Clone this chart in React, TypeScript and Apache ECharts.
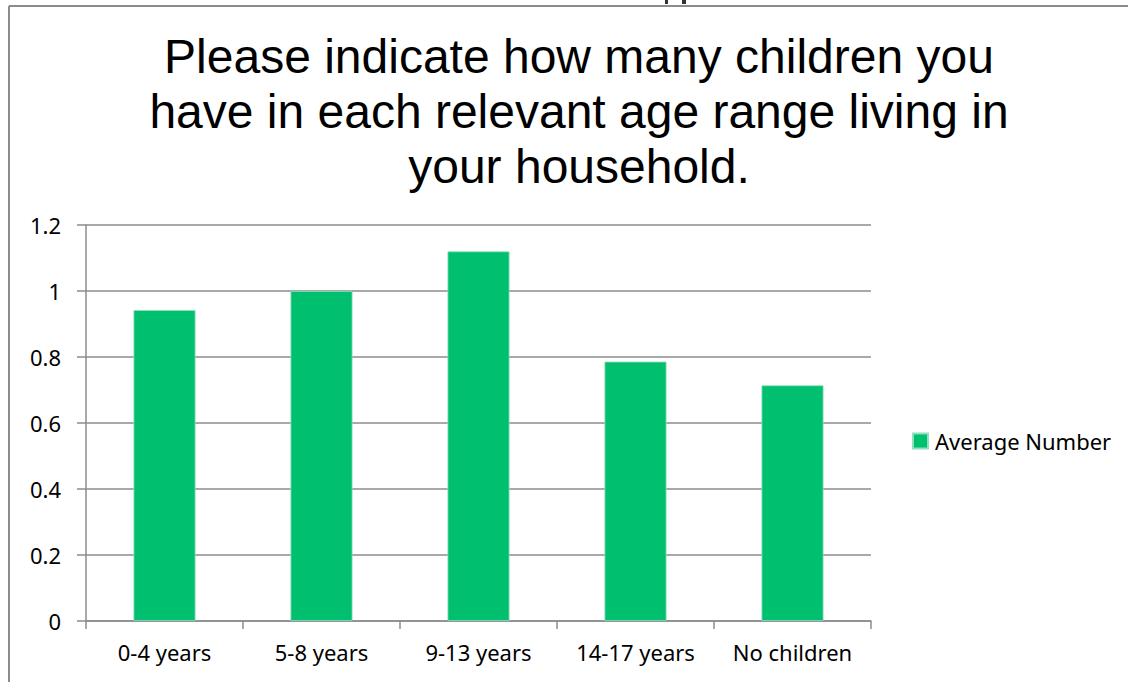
import React, { useEffect, useRef } from "react";
import * as echarts from "echarts";

const categories = ["0-4 years", "5-8 years", "9-13 years", "14-17 years", "No children"];
const averageNumber = [0.942, 1.0, 1.12, 0.786, 0.714];
const seriesName = "Average Number";
const titleText = "Please indicate how many children you\nhave in each relevant age range living in\nyour household.";

export default function App() {
  const ref = useRef<HTMLDivElement>(null);
  useEffect(() => {
    document.body.style.margin = "0";
    const chart = echarts.init(ref.current!, null, { renderer: "svg" });
    const labelFont = "'Noto Sans', 'Open Sans', sans-serif";
    chart.setOption({
      animation: false,
      backgroundColor: "#ffffff",
      title: {
        text: titleText,
        left: 574,
        top: 24,
        textAlign: "center",
        textStyle: {
          fontFamily: "'Liberation Sans', Arial, sans-serif",
          fontSize: 48,
          fontWeight: "normal",
          color: "#000000",
          lineHeight: 55,
        },
      },
      legend: {
        show: true,
        orient: "vertical",
        left: 907,
        top: 425,
        itemWidth: 15,
        itemHeight: 15,
        itemGap: 6,
        icon: "rect",
        textStyle: { fontFamily: labelFont, fontSize: 22, color: "#000000", padding: [0, 0, 0, 2] },
        data: [seriesName],
      },
      grid: { left: 86, right: 257, top: 225, bottom: 61, containLabel: false },
      xAxis: {
        type: "category",
        data: categories,
        axisLine: { show: true, lineStyle: { color: "#8c8c8c", width: 1.5 } },
        axisTick: { show: true, length: 8, lineStyle: { color: "#8c8c8c", width: 1.5 }, alignWithLabel: false },
        axisLabel: { interval: 0, fontFamily: labelFont, fontSize: 22, color: "#000000", margin: 20 },
        splitLine: { show: false },
      },
      yAxis: {
        type: "value",
        min: 0,
        max: 1.2,
        interval: 0.2,
        axisLine: { show: true, lineStyle: { color: "#8c8c8c", width: 1.5 } },
        axisTick: { show: true, length: 9, lineStyle: { color: "#8c8c8c", width: 1.5 } },
        axisLabel: {
          fontFamily: labelFont,
          fontSize: 22,
          color: "#000000",
          margin: 25,
          formatter: (v: number) => String(Math.round(v * 10) / 10),
        },
        splitLine: { show: true, lineStyle: { color: "#8c8c8c", width: 1.5 } },
      },
      series: [
        {
          name: seriesName,
          type: "bar",
          data: averageNumber,
          barWidth: "39.5%",
          itemStyle: { color: "#00BF6F", borderColor: "#8fe0bd", borderWidth: 0.8 },
        },
      ],
      graphic: [
        {
          type: "line",
          shape: { x1: 9, y1: 6, x2: 1128, y2: 6 },
          style: { stroke: "#8c8c8c", lineWidth: 2 },
        },
        {
          type: "line",
          shape: { x1: 9, y1: 6, x2: 9, y2: 682 },
          style: { stroke: "#8c8c8c", lineWidth: 2 },
        },
        { type: "rect", shape: { x: 665, y: 0, width: 3, height: 4 }, style: { fill: "#333333" } },
        { type: "rect", shape: { x: 682, y: 0, width: 4, height: 4 }, style: { fill: "#333333" } },
      ],
    });
    return () => chart.dispose();
  }, []);
  return (
    <div
      ref={ref}
      style={{ position: "absolute", left: 0, top: 0, width: 1128, height: 682 }}
    />
  );
}
